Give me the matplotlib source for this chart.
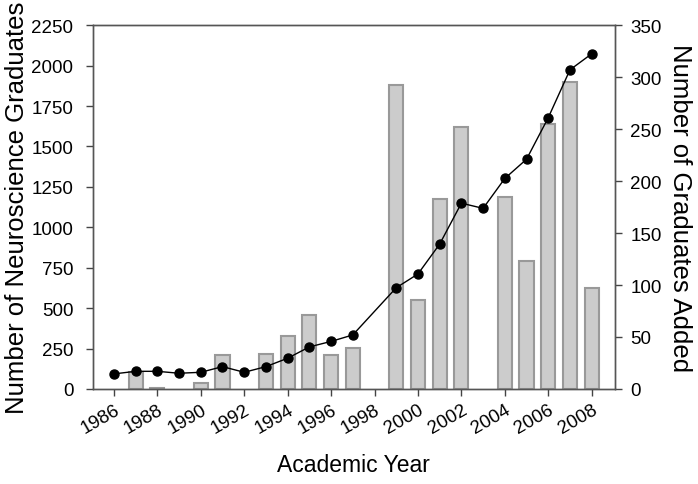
import numpy as np
import matplotlib
matplotlib.use('Agg')
import matplotlib.pyplot as plt

plt.rcParams['font.family'] = ['Liberation Sans', 'DejaVu Sans']

# Graduates per year (left axis), 1998 has no value
line_years = [1986, 1987, 1988, 1989, 1990, 1991, 1992, 1993, 1994, 1995, 1996, 1997,
              1999, 2000, 2001, 2002, 2003, 2004, 2005, 2006, 2007, 2008]
graduates = [93, 109, 109, 97, 103, 138, 103, 138, 190, 260, 294, 334,
             626, 711, 896, 1149, 1117, 1302, 1421, 1678, 1974, 2073]

# Graduates added (right axis)
bar_years = [1987, 1988, 1990, 1991, 1993, 1994, 1995, 1996, 1997,
             1999, 2000, 2001, 2002, 2004, 2005, 2006, 2007, 2008]
added = [16, 1, 6, 33, 34, 51, 71, 33, 39,
         292, 86, 183, 252, 185, 123, 255, 295, 97]

tick_years = list(range(1986, 2009, 2))

fig = plt.figure(figsize=(6.98, 4.85), dpi=100)
ax = fig.add_axes([0.133, 0.196, 0.748, 0.750])
ax2 = ax.twinx()

# bars on the right axis, behind the line
ax2.bar(bar_years, added, width=0.65, color='#cccccc', edgecolor='#999999', linewidth=1.5)
ax2.set_ylim(0, 350)
ax2.set_yticks(range(0, 351, 50))
ax2.set_ylabel('Number of Graduates Added', fontsize=18.5, rotation=270, labelpad=22)

ax.plot(line_years, graduates, color='black', linewidth=1, marker='o', markersize=6.5)
ax.set_ylim(0, 2250)
ax.set_yticks(range(0, 2251, 250))
ax.set_xlim(1985.03, 2009.07)
ax.set_xticks(tick_years)
ax.set_xticklabels([str(y) for y in tick_years], rotation=30, ha='right', rotation_mode='anchor')
ax.set_ylabel('Number of Neuroscience Graduates', fontsize=18.5, labelpad=2)
ax.set_xlabel('Academic Year', fontsize=16.5, labelpad=12)

ax.set_zorder(ax2.get_zorder() + 1)
ax.patch.set_visible(False)

for a in (ax, ax2):
    a.tick_params(direction='out', length=5, width=1, color='#444444', labelsize=13.5)
    for s in a.spines.values():
        s.set_color('#555555')
        s.set_linewidth(1)
ax.tick_params(axis='y', pad=9)
ax2.tick_params(axis='y', pad=6)

fig.savefig('out.png', dpi=100)
